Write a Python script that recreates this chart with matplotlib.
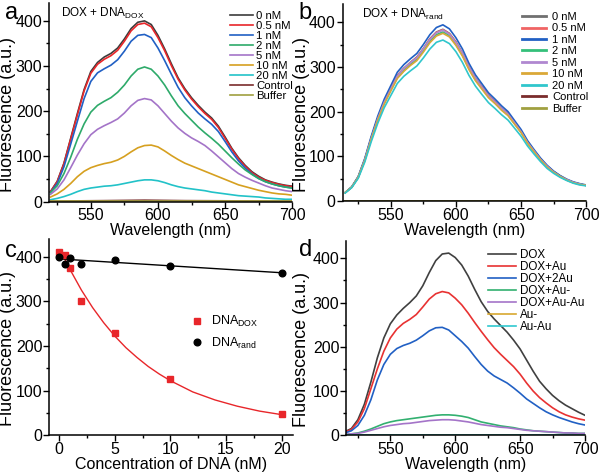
import matplotlib
matplotlib.use("Agg")
import matplotlib.pyplot as plt
from matplotlib.ticker import MultipleLocator

plt.rcParams['font.family'] = ['Liberation Sans', 'DejaVu Sans']
plt.rcParams['mathtext.fontset'] = 'custom'
plt.rcParams['mathtext.rm'] = 'Liberation Sans'

# ---- panel a: DOX + DNA_DOX ----
wl_a = list(range(520, 701, 5))
a_labels = ['0 nM', '0.5 nM', '1 nM', '2 nM', '5 nM', '10 nM', '20 nM']
a_0 = [22, 45, 85, 140, 195, 248, 288, 308, 320, 328, 340, 360, 383, 397, 400, 392, 368, 338, 305, 274,
       250, 230, 213, 198, 185, 167, 143, 118, 97, 80, 66, 56, 48, 43, 39, 36, 34]
a_05 = [22, 44, 84, 138, 192, 245, 284, 304, 315, 323, 335, 355, 378, 392, 395, 387, 363, 334, 301, 271,
        247, 227, 210, 195, 182, 164, 140, 116, 95, 78, 64, 54, 47, 42, 38, 35, 33]
a_1 = [20, 40, 77, 127, 178, 228, 266, 285, 294, 302, 314, 333, 355, 368, 370, 363, 340, 312, 282, 253,
       230, 212, 196, 183, 171, 155, 133, 110, 90, 74, 61, 51, 44, 39, 35, 32, 30]
a_2 = [20, 35, 62, 98, 138, 172, 198, 213, 222, 230, 242, 258, 278, 293, 298, 293, 278, 258, 234, 212,
       195, 180, 165, 152, 140, 127, 112, 97, 83, 70, 60, 51, 44, 39, 35, 32, 30]
a_5 = [16, 28, 48, 75, 103, 128, 148, 160, 168, 175, 183, 196, 212, 224, 228, 225, 212, 195, 178, 163,
       151, 141, 133, 124, 112, 99, 86, 73, 62, 54, 47, 41, 35, 30, 27, 24, 22]
a_10 = [10, 17, 27, 40, 55, 67, 75, 80, 84, 87, 92, 100, 110, 119, 124, 125, 121, 112, 102, 93,
        85, 79, 73, 67, 61, 55, 49, 43, 37, 33, 29, 25, 22, 19, 17, 16, 14]
a_20 = [4, 7, 11, 16, 22, 27, 30, 32, 34, 35, 37, 40, 43, 46, 48, 48, 46, 42, 37, 33,
        30, 28, 26, 24, 21, 19, 17, 15, 13, 12, 11, 10, 8, 7, 6, 5, 5]
wl_flat = [520, 560, 590, 620, 700]
a_control = [1, 2, 3, 2, 1]
a_buffer = [0.5, 0.5, 0.5, 0.5, 0.5]

# ---- panel b: DOX + DNA_rand ----
wl_b = list(range(515, 701, 5))
b_0 = [19, 31, 54, 93, 141, 185, 222, 252, 281, 297, 310, 322, 341, 363, 378, 384, 375, 356, 331, 300,
       275, 256, 237, 223, 208, 195, 176, 156, 132, 112, 94, 78, 66, 56, 48, 42, 38, 35]
b_05 = [19, 31, 54, 92, 141, 185, 222, 251, 280, 296, 309, 321, 340, 362, 377, 383, 374, 355, 330, 300,
        274, 255, 236, 222, 207, 195, 175, 156, 132, 112, 94, 78, 66, 56, 48, 42, 38, 35]
b_1 = [19, 32, 55, 95, 145, 190, 228, 258, 288, 305, 318, 330, 350, 372, 388, 394, 385, 365, 340, 308,
       282, 262, 242, 228, 213, 200, 180, 160, 135, 115, 96, 80, 67, 57, 49, 43, 39, 36]
b_2 = [19, 31, 53, 91, 139, 182, 219, 248, 276, 292, 305, 317, 336, 357, 372, 378, 370, 350, 326, 296,
       271, 252, 233, 219, 205, 192, 173, 154, 130, 111, 92, 77, 65, 55, 47, 41, 38, 35]
b_5 = [19, 31, 53, 92, 140, 184, 221, 250, 279, 296, 309, 320, 340, 361, 376, 382, 373, 354, 330, 299,
       274, 254, 235, 221, 207, 194, 175, 155, 131, 112, 93, 78, 65, 55, 48, 42, 38, 35]
b_10 = [19, 31, 53, 90, 138, 181, 217, 246, 274, 290, 303, 314, 333, 354, 369, 375, 367, 348, 324, 294,
        269, 250, 231, 218, 203, 191, 172, 153, 129, 110, 92, 76, 64, 55, 47, 41, 37, 35]
b_20 = [18, 30, 51, 87, 133, 174, 209, 236, 263, 279, 291, 302, 320, 340, 355, 360, 352, 334, 310, 281,
        257, 238, 220, 207, 193, 181, 163, 145, 123, 105, 88, 73, 62, 53, 46, 40, 36, 34]
wl_flat_b = [515, 600, 700]
b_control = [0.5, 0.5, 0.5]
b_buffer = [0.3, 0.3, 0.3]

# ---- panel c: quenching vs concentration ----
conc = [0, 0.5, 1, 2, 5, 10, 20]
c_dox = [410, 403, 375, 301, 230, 125, 47]
c_rand = [400, 383, 398, 384, 392, 379, 363]
fit_dox_x = [0.3, 1, 2, 3, 4, 5, 6, 7, 8, 9, 10, 12, 14, 16, 18, 20]
fit_dox_y = [405, 370, 325, 286, 252, 222, 196, 174, 154, 137, 122, 97, 79, 65, 54, 46]
fit_rand_x = [0, 20]
fit_rand_y = [395, 364]

# ---- panel d: Au conjugates ----
wl_d = list(range(515, 701, 5))
d_labels = ['DOX', 'DOX+Au', 'DOX+2Au', 'DOX+Au-', 'DOX+Au-Au', 'Au-', 'Au-Au']
d_dox = [8, 15, 35, 70, 120, 175, 220, 252, 272, 287, 300, 315, 338, 368, 395, 410, 412, 402, 385, 360,
         330, 302, 280, 263, 248, 233, 215, 195, 170, 145, 122, 105, 90, 78, 68, 60, 52, 45]
d_au = [7, 13, 30, 60, 105, 150, 190, 220, 240, 253, 262, 273, 290, 308, 320, 325, 322, 310, 295, 276,
        255, 235, 216, 198, 183, 169, 155, 138, 118, 100, 85, 73, 62, 53, 46, 41, 37, 34]
d_2au = [5, 10, 22, 45, 80, 125, 160, 183, 196, 203, 208, 215, 225, 236, 243, 244, 238, 225, 212, 197,
         178, 160, 145, 134, 126, 118, 107, 95, 82, 72, 62, 53, 46, 40, 35, 30, 26, 23]
d_aum = [2, 3, 5, 9, 14, 20, 26, 30, 33, 35, 37, 39, 41, 43, 45, 46, 46, 45, 43, 40,
         35, 30, 27, 24, 21, 19, 17, 14, 12, 10, 9, 8, 7, 6, 5, 5, 4, 4]
d_auau = [2, 3, 4, 7, 11, 15, 19, 22, 24, 26, 27, 29, 31, 33, 34, 35, 35, 34, 32, 30,
          27, 24, 22, 20, 18, 17, 15, 13, 11, 10, 9, 8, 7, 6, 5, 5, 4, 4]
wl_flat_d = [515, 600, 700]
d_aum_only = [1, 1, 1]
d_auau_only = [1.5, 1.5, 1.5]

fig = plt.figure(figsize=(6, 4.72), dpi=100)
ax_a = fig.add_axes([0.082, 0.573, 0.405, 0.421])
ax_b = fig.add_axes([0.571, 0.574, 0.406, 0.417])
ax_c = fig.add_axes([0.082, 0.078, 0.406, 0.416])
ax_d = fig.add_axes([0.577, 0.078, 0.398, 0.412])

lw = 1.2


def style(ax, xlim, xmaj, xmin):
    ax.set_xlim(*xlim)
    ax.set_ylim(0, 440)
    ax.spines['top'].set_visible(False)
    ax.spines['right'].set_visible(False)
    for s in ('left', 'bottom'):
        ax.spines[s].set_linewidth(1.1)
    ax.xaxis.set_major_locator(MultipleLocator(xmaj))
    ax.xaxis.set_minor_locator(MultipleLocator(xmin))
    ax.yaxis.set_major_locator(MultipleLocator(100))
    ax.yaxis.set_minor_locator(MultipleLocator(50))
    ax.tick_params(which='major', length=4, width=1, labelsize=11.5, pad=1)
    ax.tick_params(which='minor', length=2.5, width=1)
    ax.set_ylabel('Fluorescence (a.u.)', fontsize=13)
    ax.yaxis.set_label_coords(-0.135, 0.44)


# panel a
cols_a = ['#3c3c3c', '#e8262a', '#2160c4', '#2eaa6a', '#a474c8', '#d6a020', '#22c2c8']
for ys, c, lab in zip([a_0, a_05, a_1, a_2, a_5, a_10, a_20], cols_a, a_labels):
    ax_a.plot(wl_a, ys, color=c, lw=lw, label=lab)
ax_a.plot(wl_flat, a_control, color='#7a2c2c', lw=lw, label='Control')
ax_a.plot(wl_flat, a_buffer, color='#a0a040', lw=lw, label='Buffer')
style(ax_a, (519, 700), 50, 25)
ax_a.set_xlabel('Wavelength (nm)', fontsize=11.5, labelpad=0)
ax_a.text(0.05, 0.985, r'DOX + DNA$_{\rm DOX}$', transform=ax_a.transAxes, fontsize=8.5, va='top')
ax_a.legend(loc='upper right', bbox_to_anchor=(1.035, 1.0), frameon=False, fontsize=8.2,
            handlelength=2.0, handletextpad=0.3, labelspacing=0.0, borderpad=0.2)

# panel b
cols_b = ['#707070', '#f06464', '#2160c4', '#34c07a', '#b088d0', '#daa838', '#30c6cc']
for ys, c, lab in zip([b_0, b_05, b_1, b_2, b_5, b_10, b_20], cols_b, a_labels):
    ax_b.plot(wl_b, ys, color=c, lw=lw, label=lab)
ax_b.plot(wl_flat_b, b_control, color='#7a2c2c', lw=lw, label='Control')
ax_b.plot(wl_flat_b, b_buffer, color='#a0a040', lw=lw, label='Buffer')
style(ax_b, (513, 700), 50, 25)
ax_b.set_xlabel('Wavelength (nm)', fontsize=11.5, labelpad=0)
ax_b.text(0.08, 0.985, r'DOX + DNA$_{\rm rand}$', transform=ax_b.transAxes, fontsize=8.5, va='top')
leg = ax_b.legend(loc='upper right', bbox_to_anchor=(1.04, 1.0), frameon=False, fontsize=8,
                  handlelength=2.2, handletextpad=0.5, labelspacing=0.13, borderpad=0.2)
for h in leg.get_lines():
    h.set_linewidth(2)

# panel c
ax_c.plot(fit_dox_x, fit_dox_y, color='#e8262a', lw=1)
ax_c.plot(fit_rand_x, fit_rand_y, color='black', lw=1)
ax_c.plot(conc, c_dox, 's', color='#e8262a', ms=4.8, label=r'DNA$_{\rm DOX}$')
ax_c.plot(conc, c_rand, 'o', color='black', ms=4.8, label=r'DNA$_{\rm rand}$')
style(ax_c, (-0.9, 21), 5, 2.5)
ax_c.set_xlabel('Concentration of DNA (nM)', fontsize=11.5, labelpad=0)
ax_c.legend(loc='upper left', bbox_to_anchor=(0.52, 0.66), frameon=False, fontsize=9,
            handletextpad=0.1, labelspacing=0.5, borderpad=0.2)

# panel d
cols_d = ['#404040', '#e83232', '#2160c4', '#32b070', '#a474c8']
for ys, c, lab in zip([d_dox, d_au, d_2au, d_aum, d_auau], cols_d, d_labels):
    ax_d.plot(wl_d, ys, color=c, lw=lw, label=lab)
ax_d.plot(wl_flat_d, d_aum_only, color='#d8a830', lw=lw, label=d_labels[5])
ax_d.plot(wl_flat_d, d_auau_only, color='#30c8d0', lw=lw, label=d_labels[6])
style(ax_d, (516, 700), 50, 25)
ax_d.set_xlabel('Wavelength (nm)', fontsize=11.5, labelpad=0)
ax_d.yaxis.set_label_coords(-0.15, 0.44)
ax_d.legend(loc='upper right', bbox_to_anchor=(1.03, 1.0), frameon=False, fontsize=8.4,
            handlelength=2.4, handletextpad=0.3, labelspacing=0.0, borderpad=0.2)

for lab, x, y in [('a', 0.008, 0.995), ('b', 0.498, 0.995), ('c', 0.008, 0.492), ('d', 0.498, 0.494)]:
    fig.text(x, y, lab, fontsize=17, va='top', ha='left')

fig.savefig('out.png', dpi=100)
